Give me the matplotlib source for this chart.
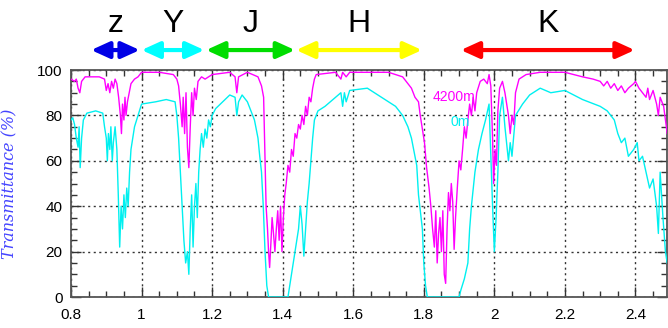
import numpy as np
import matplotlib
matplotlib.use('Agg')
import matplotlib.pyplot as plt
from matplotlib.ticker import MultipleLocator, FormatStrFormatter

# transmittance at 4200 m (magenta)
wl_4200 = [0.800, 0.810, 0.815, 0.820, 0.825, 0.830, 0.840, 0.860, 0.880, 0.895,
           0.900, 0.905, 0.910, 0.915, 0.920, 0.925, 0.930, 0.935, 0.940, 0.943,
           0.946, 0.950, 0.953, 0.956, 0.960, 0.965, 0.970, 0.980, 0.990, 1.000,
           1.050, 1.090, 1.100, 1.105, 1.110, 1.115, 1.118, 1.122, 1.126, 1.130,
           1.134, 1.138, 1.142, 1.146, 1.150, 1.155, 1.160, 1.170, 1.180, 1.190,
           1.200, 1.250, 1.265, 1.270, 1.275, 1.300, 1.330, 1.340, 1.346, 1.350,
           1.353, 1.357, 1.360, 1.363, 1.367, 1.370, 1.374, 1.378, 1.382, 1.386,
           1.390, 1.394, 1.398, 1.402, 1.406, 1.410, 1.415, 1.420, 1.425, 1.430,
           1.435, 1.440, 1.445, 1.450, 1.455, 1.460, 1.465, 1.470, 1.475, 1.480,
           1.485, 1.490, 1.495, 1.550, 1.565, 1.570, 1.580, 1.590, 1.700, 1.740,
           1.755, 1.765, 1.775, 1.785, 1.790, 1.796, 1.802, 1.808, 1.815, 1.820,
           1.825, 1.830, 1.834, 1.838, 1.842, 1.846, 1.850, 1.854, 1.858, 1.862,
           1.866, 1.870, 1.874, 1.878, 1.882, 1.886, 1.890, 1.895, 1.900, 1.905,
           1.910, 1.915, 1.920, 1.925, 1.930, 1.935, 1.940, 1.945, 1.950, 1.960,
           1.970, 1.980, 1.985, 1.990, 1.995, 1.998, 2.002, 2.006, 2.010, 2.015,
           2.023, 2.030, 2.040, 2.045, 2.050, 2.055, 2.060, 2.070, 2.090, 2.130,
           2.200, 2.250, 2.280, 2.300, 2.310, 2.320, 2.330, 2.340, 2.350, 2.360,
           2.370, 2.380, 2.395, 2.400, 2.410, 2.420, 2.430, 2.435, 2.440, 2.450,
           2.460, 2.465, 2.470, 2.480, 2.490]
t_4200 = [96, 95, 96, 92, 90, 95, 97, 97, 97, 96,
          91, 94, 90, 95, 92, 96, 94, 88, 80, 72,
          85, 78, 88, 80, 86, 90, 94, 96, 97, 99,
          99, 98, 96, 93, 85, 75, 88, 72, 90, 66,
          57, 75, 90, 80, 92, 87, 95, 97, 96, 97,
          98, 99, 97, 90, 97, 99, 97, 93, 88, 60,
          40, 30, 20, 13, 25, 35, 28, 20, 30, 38,
          25, 40, 20, 35, 45, 50, 58, 55, 65, 62,
          72, 70, 76, 74, 80, 76, 84, 80, 88, 86,
          92, 96, 98, 99, 96, 99, 97, 99, 99, 97,
          94, 92, 88, 86, 80, 74, 68, 57, 48, 40,
          30, 22, 38, 15, 28, 35, 20, 38, 10, 6,
          30, 46, 38, 50, 42, 21, 35, 48, 60, 56,
          65, 75, 70, 78, 85, 80, 88, 82, 90, 95,
          96, 94, 98, 93, 70, 50, 65, 58, 82, 92,
          95, 90, 80, 72, 80, 76, 90, 96, 98, 99,
          99, 97, 96, 95, 93, 95, 92, 94, 91, 93,
          90, 92, 94, 95, 92, 90, 88, 92, 87, 91,
          85, 80, 88, 84, 72]

# transmittance at sea level (cyan)
wl_0 = [0.800, 0.805, 0.810, 0.815, 0.820, 0.823, 0.826, 0.830, 0.835, 0.845,
        0.870, 0.890, 0.895, 0.900, 0.903, 0.906, 0.910, 0.913, 0.917, 0.920,
        0.925, 0.930, 0.934, 0.938, 0.942, 0.946, 0.950, 0.954, 0.958, 0.962,
        0.966, 0.970, 0.980, 0.990, 1.000, 1.040, 1.070, 1.095, 1.100, 1.105,
        1.110, 1.115, 1.120, 1.125, 1.130, 1.134, 1.138, 1.142, 1.146, 1.150,
        1.154, 1.158, 1.162, 1.166, 1.170, 1.175, 1.180, 1.185, 1.190, 1.195,
        1.200, 1.210, 1.230, 1.250, 1.265, 1.270, 1.275, 1.285, 1.300, 1.320,
        1.330, 1.335, 1.340, 1.345, 1.350, 1.355, 1.360, 1.415, 1.420, 1.425,
        1.430, 1.435, 1.440, 1.445, 1.450, 1.455, 1.460, 1.465, 1.470, 1.475,
        1.480, 1.485, 1.490, 1.500, 1.520, 1.550, 1.565, 1.570, 1.575, 1.580,
        1.590, 1.640, 1.680, 1.700, 1.720, 1.740, 1.755, 1.765, 1.775, 1.780,
        1.785, 1.790, 1.796, 1.800, 1.805, 1.810, 1.900, 1.905, 1.915, 1.925,
        1.930, 1.935, 1.945, 1.955, 1.965, 1.975, 1.985, 1.990, 1.995, 2.000,
        2.005, 2.010, 2.015, 2.023, 2.030, 2.040, 2.045, 2.050, 2.060, 2.080,
        2.100, 2.130, 2.160, 2.200, 2.250, 2.300, 2.320, 2.340, 2.350, 2.360,
        2.370, 2.380, 2.395, 2.405, 2.410, 2.420, 2.430, 2.440, 2.450, 2.460,
        2.465, 2.470, 2.478, 2.485, 2.490]
t_0 = [78, 79, 76, 70, 66, 75, 57, 70, 78, 81,
       82, 81, 75, 70, 60, 72, 65, 75, 60, 68,
       75, 65, 45, 22, 40, 30, 45, 35, 48, 40,
       55, 65, 75, 80, 85, 86, 87, 86, 80, 70,
       55, 40, 25, 15, 20, 10, 30, 45, 22, 40,
       50, 35, 55, 65, 72, 66, 74, 70, 78, 75,
       80, 83, 86, 89, 88, 80, 86, 89, 86, 78,
       70, 62, 55, 40, 20, 5, 0, 0, 5, 10,
       15, 20, 25, 30, 40, 32, 18, 30, 42, 50,
       60, 70, 78, 82, 84, 88, 90, 84, 90, 86,
       91, 92, 88, 86, 84, 80, 75, 70, 62, 58,
       45, 38, 30, 15, 5, 0, 0, 3, 8, 15,
       30, 40, 55, 65, 72, 78, 85, 62, 40, 20,
       35, 55, 80, 88, 75, 60, 68, 62, 80, 85,
       89, 92, 90, 91, 87, 84, 82, 78, 72, 68,
       70, 62, 65, 68, 60, 62, 55, 48, 52, 40,
       28, 55, 35, 20, 15]

bands = ['z', 'Y', 'J', 'H', 'K']
band_start = [0.857, 1.000, 1.183, 1.438, 1.905]
band_end = [0.995, 1.178, 1.435, 1.795, 2.398]
band_colors = ['#0000e6', '#00ffff', '#00dd00', '#ffff00', '#ff0000']

fig = plt.figure(figsize=(6.68, 3.28), dpi=100)
ax = fig.add_axes([0.1063, 0.0945, 0.8925, 0.692])

ax.plot(wl_0, t_0, color='#00f0f0', lw=1, zorder=3)
ax.plot(wl_4200, t_4200, color='#ff00ff', lw=1, zorder=3)

ax.set_xlim(0.8, 2.49)
ax.set_ylim(0, 100)
ax.xaxis.set_major_locator(MultipleLocator(0.2))
ax.xaxis.set_minor_locator(MultipleLocator(0.05))
ax.yaxis.set_major_locator(MultipleLocator(20))
ax.yaxis.set_minor_locator(MultipleLocator(5))
ax.xaxis.set_major_formatter(FormatStrFormatter('%g'))
ax.tick_params(which='both', direction='in', top=True, right=True, colors='#333333',
               labelcolor='black', labelsize=11)
ax.tick_params(which='major', length=7, width=1)
ax.tick_params(which='minor', length=4, width=1)
ax.tick_params(axis='x', pad=8)
ax.tick_params(axis='y', pad=6)
for lab in ax.get_xticklabels() + ax.get_yticklabels():
    lab.set_fontfamily('Liberation Sans')
for s in ax.spines.values():
    s.set_color('#555555')
    s.set_linewidth(1.3)
ax.grid(True, which='major', linestyle=(0, (1.5, 2.5)), color='#333333', lw=1)

ax.set_ylabel('Transmittance (%)', color='#4444ff', fontsize=11.5, style='italic',
              family='DejaVu Serif')
ax.yaxis.set_label_coords(-0.088, 0.5)

ax.text(1.825, 88, '4200m', color='#ff00ff', fontsize=10, family='Liberation Sans',
        ha='left', va='center')
ax.text(1.875, 77, '0m', color='#00f0f0', fontsize=10, family='Liberation Sans',
        ha='left', va='center')

trans = ax.get_xaxis_transform()
for name, x0, x1, c in zip(bands, band_start, band_end, band_colors):
    ax.annotate('', xy=(x1, 1.088), xytext=(x0, 1.088), xycoords=trans, textcoords=trans,
                arrowprops=dict(arrowstyle='<|-|>,head_length=1.1,head_width=0.5',
                                color=c, lw=3, shrinkA=0, shrinkB=0, mutation_scale=10),
                annotation_clip=False)
    ax.text((x0 + x1) / 2, 1.203, name, transform=trans, ha='center', va='center',
            fontsize=23, family='Liberation Sans', color='black', clip_on=False)

fig.savefig('out.png', dpi=100)
